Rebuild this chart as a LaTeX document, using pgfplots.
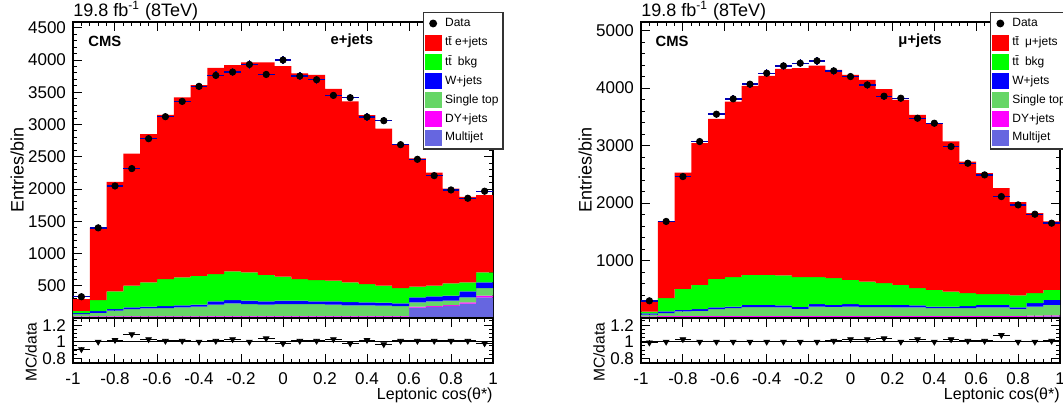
\documentclass[border=0pt]{standalone}
\usepackage{fontspec}
\setmainfont{Liberation Sans}
\usepackage{pgfplots}
\usepackage{pgfplotstable}
\pgfplotsset{compat=1.18}

\definecolor{sigred}{RGB}{255,0,0}
\definecolor{bkggreen}{RGB}{0,255,0}
\definecolor{wblue}{RGB}{0,0,255}
\definecolor{stgreen}{RGB}{102,214,102}
\definecolor{dymag}{RGB}{255,0,255}
\definecolor{mjpurple}{RGB}{102,102,224}

% e+jets: left bin edge, Multijet, DY+jets, Single top, W+jets, ttbar bkg, ttbar signal
\pgfplotstableread{
xl mj dy st w bkg sig
-1.00 15 10 35 15 35 184
-0.92 20 10 50 25 174 1121
-0.84 20 10 83 26 274 1697
-0.76 20 10 109 26 336 2049
-0.68 20 10 120 25 377 2298
-0.60 20 10 125 31 418 2546
-0.52 20 10 135 31 434 2790
-0.44 20 10 145 31 449 2955
-0.36 22 10 174 52 423 3199
-0.28 22 10 195 52 443 3198
-0.20 22 10 185 51 439 3258
-0.12 22 10 174 52 412 3295
-0.04 22 10 185 51 372 3265
0.04 22 10 185 51 336 3191
0.12 22 10 185 41 330 3182
0.20 22 10 174 52 320 2977
0.28 22 10 164 52 304 2808
0.36 22 10 164 46 284 2619
0.44 22 10 159 46 264 2434
0.52 22 10 154 41 237 2226
0.60 160 15 67 78 165 1990
0.68 170 15 73 77 166 1754
0.76 185 15 68 78 191 1468
0.84 225 17 78 93 139 1326
0.92 320 26 118 88 155 1198
1.00 320 26 118 88 155 1198
}\stackL

\pgfplotstableread{
xc data err ratio rerr
-0.96 330 18 0.91 0.03
-0.88 1398 37 1.00 0.02
-0.80 2048 45 1.02 0.02
-0.72 2317 48 1.09 0.02
-0.64 2781 53 1.03 0.02
-0.56 3122 56 1.01 0.02
-0.48 3359 58 1.01 0.02
-0.40 3592 60 1.00 0.02
-0.32 3762 61 1.01 0.02
-0.24 3814 62 1.03 0.02
-0.16 3932 63 1.00 0.02
-0.08 3777 61 1.04 0.02
0.00 4000 63 0.98 0.02
0.08 3752 61 1.01 0.02
0.16 3695 61 1.01 0.02
0.24 3452 59 1.03 0.02
0.32 3416 58 0.98 0.02
0.40 3117 56 1.02 0.02
0.48 3060 55 0.97 0.02
0.56 2688 52 1.01 0.02
0.64 2461 50 1.01 0.02
0.72 2208 47 1.01 0.02
0.80 1986 45 1.01 0.02
0.88 1857 43 1.01 0.02
0.96 1966 44 0.98 0.02
}\dataL

% mu+jets
\pgfplotstableread{
xl mj dy st w bkg sig
-1.00 18 12 30 20 30 180
-0.92 20 15 50 29 232 1334
-0.84 20 15 79 29 364 2023
-0.76 20 15 91 29 422 2464
-0.68 20 15 120 28 498 2783
-0.60 20 15 137 28 510 3056
-0.52 20 15 155 40 521 3288
-0.44 20 15 155 40 521 3462
-0.36 20 15 150 33 522 3595
-0.28 20 15 125 35 515 3636
-0.20 20 15 165 40 470 3683
-0.12 20 15 160 35 463 3625
-0.04 20 15 165 40 424 3567
0.04 20 15 155 40 405 3509
0.12 20 15 155 40 376 3375
0.20 20 15 150 45 347 3219
0.28 20 15 150 33 301 3016
0.36 20 15 137 28 290 2900
0.44 20 15 137 28 261 2610
0.52 20 15 137 33 227 2290
0.60 20 15 150 45 185 2104
0.68 20 15 150 45 185 1843
0.76 20 15 125 23 209 1623
0.84 25 15 160 58 174 1392
0.92 30 15 185 87 173 1190
1.00 30 15 185 87 173 1190
}\stackR

\pgfplotstableread{
xc data err ratio rerr
-0.96 299 17 0.99 0.03
-0.88 1680 41 1.00 0.02
-0.80 2461 50 1.03 0.02
-0.72 3070 55 1.00 0.02
-0.64 3546 60 1.00 0.02
-0.56 3813 62 1.00 0.02
-0.48 4068 64 1.00 0.02
-0.40 4259 65 1.00 0.02
-0.32 4387 66 1.00 0.02
-0.24 4433 67 1.00 0.02
-0.16 4474 67 1.00 0.02
-0.08 4300 66 1.01 0.02
0.00 4201 65 1.03 0.02
0.08 4056 64 1.03 0.02
0.16 3859 62 1.04 0.02
0.24 3824 62 1.00 0.02
0.32 3476 59 1.03 0.02
0.40 3389 58 1.00 0.02
0.48 2983 55 1.03 0.02
0.56 2693 52 1.01 0.02
0.64 2490 50 1.01 0.02
0.72 2113 46 1.08 0.02
0.80 1968 44 1.00 0.02
0.88 1806 42 1.00 0.02
0.96 1650 41 1.01 0.02
}\dataR

\pgfplotsset{
  cmsframe/.style={
    scale only axis,
    xmin=-1, xmax=1,
    clip=false,
    tick align=inside,
    axis line style={line width=0.9pt},
    every tick/.style={black, line width=0.5pt},
    major tick length=4.5pt, minor tick length=2.2pt,
    xtick={-1,-0.8,-0.6,-0.4,-0.2,0,0.2,0.4,0.6,0.8,1},
    minor xtick={-1,-0.96,...,1},
    tick label style={font=\fontsize{8.5}{10}\selectfont},
    /pgf/number format/assume math mode=true,
    /pgf/number format/1000 sep={},
  },
  sqlegend/.style={legend image code/.code={\path[##1] (0pt,-4pt) rectangle (8.5pt,4pt);}},
  cmslegend/.style={
    reverse legend,
    legend cell align=left,
    legend style={at={(rel axis cs:0.833,1.034)}, anchor=north west,
      draw=black!80, line width=0.7pt, fill=white,
      font=\fontsize{6}{7}\selectfont,
      inner xsep=0.5pt, inner ysep=0.8pt, row sep=0pt,
      nodes={inner sep=1.8pt, anchor=west}},
  },
  stk/.style={stack plots=y, const plot, draw=none, fill=#1, sqlegend},
  datapts/.style={only marks, mark=*, mark size=1.6pt, black,
    mark options={fill=black, draw=black},
    legend image code/.code={\fill[black] (4.3pt,0pt) circle (1.6pt);},
    error bars/x dir=both, error bars/x explicit,
    error bars/y dir=both, error bars/y explicit,
    error bars/error bar style={line width=0.7pt, blue!70!black},
    error bars/error mark=none},
  ratiopts/.style={only marks, mark=triangle*, mark size=1.6pt, black,
    mark options={rotate=180, fill=black, draw=black},
    error bars/x dir=both, error bars/x explicit,
    error bars/y dir=both, error bars/y explicit,
    error bars/error bar style={line width=0.55pt, black},
    error bars/error mark=none},
}

\begin{document}
\begin{tikzpicture}

% ---------------- left main ----------------
\begin{axis}[cmsframe, cmslegend,
  at={(36.5pt,45.5pt)}, anchor=south west,
  width=210pt, height=148pt,
  ymin=0, ymax=4590,
  ytick={500,1000,1500,2000,2500,3000,3500,4000,4500},
  minor ytick={100,200,...,4500},
  xticklabels={},
  ylabel={Entries/bin},
  ylabel style={at={(rel axis cs:-0.133,0.5)}, anchor=center, font=\fontsize{9}{10}\selectfont},
]
\addplot[stk=mjpurple] table[x=xl,y=mj]{\stackL} \closedcycle;
\addlegendentry{Multijet}
\addplot[stk=dymag] table[x=xl,y=dy]{\stackL} \closedcycle;
\addlegendentry{DY+jets}
\addplot[stk=stgreen] table[x=xl,y=st]{\stackL} \closedcycle;
\addlegendentry{Single top}
\addplot[stk=wblue] table[x=xl,y=w]{\stackL} \closedcycle;
\addlegendentry{W+jets}
\addplot[stk=bkggreen] table[x=xl,y=bkg]{\stackL} \closedcycle;
\addlegendentry{t\={t}\enspace bkg}
\addplot[stk=sigred] table[x=xl,y=sig]{\stackL} \closedcycle;
\addlegendentry{t\={t} e+jets}
\addplot[datapts] table[x=xc, y=data, x error expr=0.04, y error=err]{\dataL};
\addlegendentry{Data}
\node[font=\bfseries\fontsize{7.4}{8}\selectfont] at (rel axis cs:0.076,0.936) {CMS};
\node[font=\bfseries\fontsize{7.4}{8}\selectfont] at (rel axis cs:0.664,0.936) {e+jets};
\node[anchor=base west, inner sep=0pt, font=\fontsize{9}{10}\selectfont] at (rel axis cs:0,1) [yshift=2.6pt] {19.8 fb\textsuperscript{-1} (8TeV)};
\end{axis}

% ---------------- left ratio ----------------
\begin{axis}[cmsframe,
  at={(36.5pt,23pt)}, anchor=south west,
  width=210pt, height=22.5pt,
  ymin=0.745, ymax=1.285,
  ytick={0.8,1,1.2},
  minor ytick={0.75,0.85,0.9,0.95,1.05,1.1,1.15,1.25},
  xticklabel style={yshift=-1.2pt},
  xlabel={Leptonic cos(θ*)},
  xlabel style={at={(rel axis cs:1,0)}, anchor=north east, inner sep=0pt, yshift=-12pt, font=\fontsize{8}{9}\selectfont},
  ylabel={MC/data},
  ylabel style={at={(rel axis cs:-0.1,0.24)}, anchor=center, font=\fontsize{7.8}{9}\selectfont},
]
\addplot[black, line width=0.6pt] coordinates {(-1,1) (1,1)};
\addplot[ratiopts] table[x=xc, y=ratio, x error expr=0.04, y error=rerr]{\dataL};
\end{axis}

% ---------------- right main ----------------
\begin{axis}[cmsframe, cmslegend,
  at={(320.5pt,45.5pt)}, anchor=south west,
  width=209.5pt, height=148pt,
  ymin=0, ymax=5150,
  ytick={1000,2000,3000,4000,5000},
  minor ytick={200,400,...,5000},
  xticklabels={},
  ylabel={Entries/bin},
  ylabel style={at={(rel axis cs:-0.133,0.5)}, anchor=center, font=\fontsize{9}{10}\selectfont},
]
\addplot[stk=mjpurple] table[x=xl,y=mj]{\stackR} \closedcycle;
\addlegendentry{Multijet}
\addplot[stk=dymag] table[x=xl,y=dy]{\stackR} \closedcycle;
\addlegendentry{DY+jets}
\addplot[stk=stgreen] table[x=xl,y=st]{\stackR} \closedcycle;
\addlegendentry{Single top}
\addplot[stk=wblue] table[x=xl,y=w]{\stackR} \closedcycle;
\addlegendentry{W+jets}
\addplot[stk=bkggreen] table[x=xl,y=bkg]{\stackR} \closedcycle;
\addlegendentry{t\={t}\enspace bkg}
\addplot[stk=sigred] table[x=xl,y=sig]{\stackR} \closedcycle;
\addlegendentry{t\={t}\enspace μ+jets}
\addplot[datapts] table[x=xc, y=data, x error expr=0.04, y error=err]{\dataR};
\addlegendentry{Data}
\node[font=\bfseries\fontsize{7.4}{8}\selectfont] at (rel axis cs:0.074,0.936) {CMS};
\node[font=\bfseries\fontsize{7.4}{8}\selectfont] at (rel axis cs:0.666,0.936) {μ+jets};
\node[anchor=base west, inner sep=0pt, font=\fontsize{9}{10}\selectfont] at (rel axis cs:0,1) [yshift=2.6pt] {19.8 fb\textsuperscript{-1} (8TeV)};
\end{axis}

% ---------------- right ratio ----------------
\begin{axis}[cmsframe,
  at={(320.5pt,23pt)}, anchor=south west,
  width=209.5pt, height=22.5pt,
  ymin=0.745, ymax=1.285,
  ytick={0.8,1,1.2},
  minor ytick={0.75,0.85,0.9,0.95,1.05,1.1,1.15,1.25},
  xticklabel style={yshift=-1.2pt},
  xlabel={Leptonic cos(θ*)},
  xlabel style={at={(rel axis cs:1,0)}, anchor=north east, inner sep=0pt, yshift=-12pt, font=\fontsize{8}{9}\selectfont},
  ylabel={MC/data},
  ylabel style={at={(rel axis cs:-0.1,0.24)}, anchor=center, font=\fontsize{7.8}{9}\selectfont},
]
\addplot[black, line width=0.6pt] coordinates {(-1,1) (1,1)};
\addplot[ratiopts] table[x=xc, y=ratio, x error expr=0.04, y error=rerr]{\dataR};
\end{axis}

\pgfresetboundingbox
\path[use as bounding box] (0pt,0pt) rectangle (531.5pt,204.5pt);
\end{tikzpicture}
\end{document}
